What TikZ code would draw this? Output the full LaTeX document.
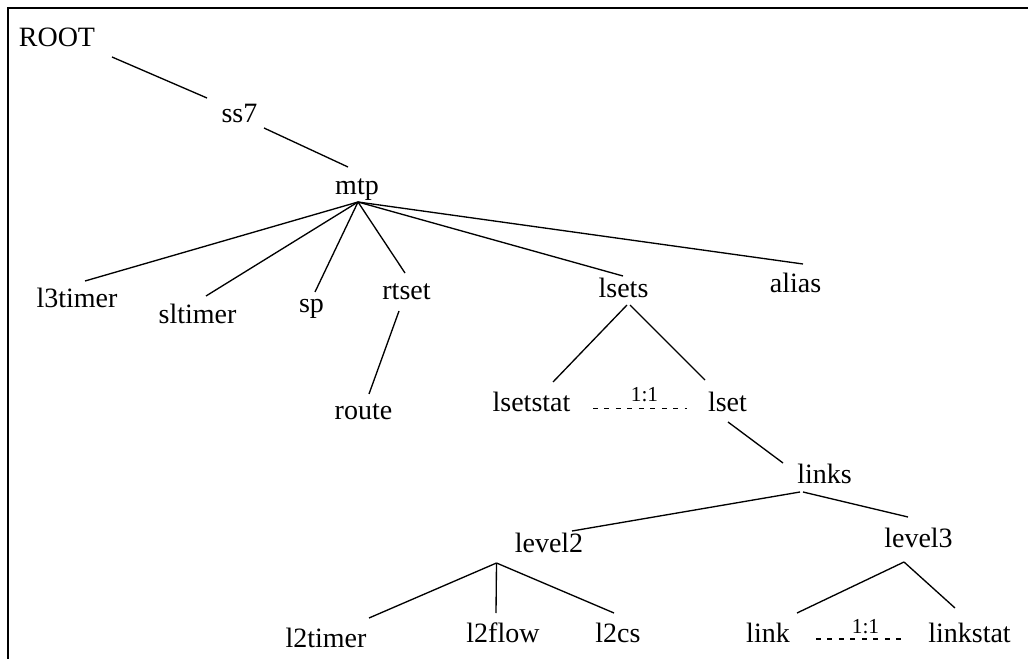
\documentclass[tikz,border=0pt]{standalone}
\usepackage{fontspec}
\setmainfont{Liberation Serif}
\begin{document}
\begin{tikzpicture}[x=0.75pt,y=-0.75pt,
  lbl/.style={inner sep=0pt, anchor=base, font=\fontsize{21}{25}\selectfont},
  ratio/.style={inner sep=0pt, anchor=base, font=\fontsize{16}{19}\selectfont},
  edge/.style={line width=1pt},
  pairline/.style={line width=1.4pt, dash pattern=on 3.6pt off 5pt},
  frame/.style={line width=1.9pt}]
\useasboundingbox (0,0) rectangle (1028,659);
\clip (0,0) rectangle (1028,659);

% open frame: top and left edges
\draw[frame] (8,670) -- (8,7.8) -- (1040,7.8);

% tree nodes (placed at text baseline centre)
\node[lbl] (root)     at (57,47)    {ROOT};
\node[lbl] (ss7)      at (239.5,123) {ss7};
\node[lbl] (mtp)      at (357,195)  {mtp};
\node[lbl] (l3timer)  at (77,307)   {l3timer};
\node[lbl] (sltimer)  at (197.5,324) {sltimer};
\node[lbl] (sp)       at (311.5,312) {sp};
\node[lbl] (rtset)    at (406.5,300) {rtset};
\node[lbl] (lsets)    at (623.5,298) {lsets};
\node[lbl] (alias)    at (795.5,293) {alias};
\node[lbl] (route)    at (363.5,419) {route};
\node[lbl] (lsetstat) at (531.5,411) {lsetstat};
\node[lbl] (lset)     at (727.5,411) {lset};
\node[lbl] (links)    at (824.5,483) {links};
\node[lbl] (level2)   at (549,552)  {level2};
\node[lbl] (level3)   at (918.5,547) {level3};
\node[lbl] (l2timer)  at (326,647)  {l2timer};
\node[lbl] (l2flow)   at (503,642)  {l2flow};
\node[lbl] (l2cs)     at (618,642)  {l2cs};
\node[lbl] (link)     at (768,642)  {link};
\node[lbl] (linkstat) at (969.5,642) {linkstat};

% ROOT -> ss7 -> mtp
\draw[edge] ([shift={(55,10)}]root.base) -- ([shift={(-32.5,-25)}]ss7.base);
\draw[edge] ([shift={(24.5,5)}]ss7.base) -- ([shift={(-9,-28)}]mtp.base);

% mtp fan-out
\draw[edge] ([shift={(1,7)}]mtp.base) -- ([shift={(8,-26)}]l3timer.base);
\draw[edge] ([shift={(1,7)}]mtp.base) -- ([shift={(8.5,-28)}]sltimer.base);
\draw[edge] ([shift={(1,7)}]mtp.base) -- ([shift={(3.5,-20)}]sp.base);
\draw[edge] ([shift={(1,7)}]mtp.base) -- ([shift={(-1.5,-27)}]rtset.base);
\draw[edge] ([shift={(1,7)}]mtp.base) -- ([shift={(-0.5,-22)}]lsets.base);
\draw[edge] ([shift={(1,7)}]mtp.base) -- ([shift={(7.5,-29)}]alias.base);

% rtset -> route
\draw[edge] ([shift={(-7.5,11)}]rtset.base) -- ([shift={(5.5,-25)}]route.base);

% lsets -> lsetstat, lset
\draw[edge] ([shift={(3.5,7)}]lsets.base) -- ([shift={(21.5,-29)}]lsetstat.base);
\draw[edge] ([shift={(6.5,7)}]lsets.base) -- ([shift={(-22.5,-31)}]lset.base);
\draw[pairline] ([shift={(61.5,-2.5)}]lsetstat.base) --
  node[ratio, pos=0.548, yshift=4.9pt] (r1) {1:1} ([shift={(-40.5,-2.5)}]lset.base);

% lset -> links -> level2, level3
\draw[edge] ([shift={(0.5,11)}]lset.base) -- ([shift={(-41.5,-20)}]links.base);
\draw[edge] ([shift={(-24.5,9)}]links.base) -- ([shift={(23,-21)}]level2.base);
\draw[edge] ([shift={(-21.5,9)}]links.base) -- ([shift={(-10.5,-30)}]level3.base);

% level2 fan-out
\draw[edge] ([shift={(-52.5,11)}]level2.base) -- ([shift={(43,-29)}]l2timer.base);
\draw[edge] ([shift={(-52.5,11)}]level2.base) -- ([shift={(-7,-29)}]l2flow.base);
\draw[edge] ([shift={(-52.5,11)}]level2.base) -- ([shift={(-4,-29)}]l2cs.base);

% level3 fan-out
\draw[edge] ([shift={(-14.5,15)}]level3.base) -- ([shift={(29,-29)}]link.base);
\draw[edge] ([shift={(-14.5,15)}]level3.base) -- ([shift={(-14.5,-34)}]linkstat.base);
\draw[pairline] ([shift={(48,-3)}]link.base) --
  node[ratio, pos=0.544, yshift=4.5pt] (r2) {1:1} ([shift={(-62.5,-3)}]linkstat.base);
\end{tikzpicture}
\end{document}
